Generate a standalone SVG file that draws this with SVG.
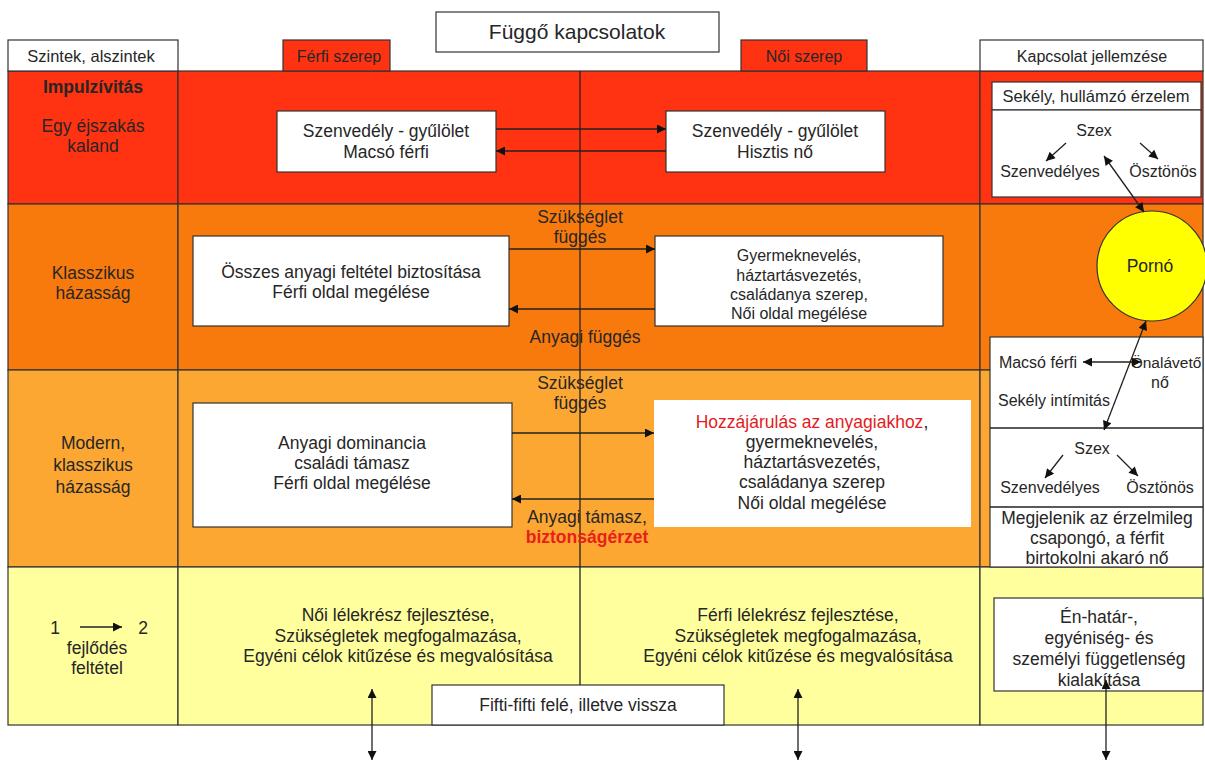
<svg xmlns="http://www.w3.org/2000/svg" width="1205" height="763" viewBox="0 0 1205 763">
<style>
text{font-family:"Liberation Sans",Arial,sans-serif;font-size:17.5px;fill:#262626;text-anchor:middle}
.s{font-size:16px}
.b{stroke:#333;stroke-width:1.2}
.w{fill:#fff}
.r{fill:#ff3311}
.o{fill:#f87a0d}
.lo{fill:#fda733}
.y{fill:#ffff9e}
.ln{stroke:#222;stroke-width:1.3;fill:none}
.hd{font-size:21px}
.rd{fill:#e31b23}
</style>
<defs>
<marker id="ah" viewBox="0 0 10 10" refX="10" refY="5" markerWidth="13" markerHeight="9" markerUnits="userSpaceOnUse" orient="auto-start-reverse"><path d="M0,0 L10,5 L0,10 z" fill="#111"/></marker>
</defs>
<rect width="1205" height="763" fill="#fff"/>
<g id="rows">
<rect class="r b" x="8" y="71" width="170" height="133"/>
<rect class="r b" x="178" y="71" width="802" height="133"/>
<rect class="r b" x="980" y="71" width="223" height="133"/>
<rect class="o b" x="8" y="204" width="170" height="166"/>
<rect class="o b" x="178" y="204" width="802" height="166"/>
<rect class="o b" x="980" y="204" width="223" height="166"/>
<rect class="lo b" x="8" y="370" width="170" height="197"/>
<rect class="lo b" x="178" y="370" width="802" height="197"/>
<rect class="lo b" x="980" y="370" width="223" height="197"/>
<rect class="y b" x="8" y="567" width="170" height="158"/>
<rect class="y b" x="178" y="567" width="802" height="158"/>
<rect class="y b" x="980" y="567" width="223" height="158"/>
<line class="ln" x1="580" y1="71" x2="580" y2="685"/>
</g>
<g id="header">
<rect class="w b" x="436" y="12" width="283" height="40"/>
<text class="hd" x="577" y="39">Függő kapcsolatok</text>
<rect class="w b" x="8" y="40" width="170" height="31"/>
<text x="91" y="62" style="font-size:16.5px">Szintek, alszintek</text>
<rect class="r b" x="283" y="40" width="107" height="31"/>
<text class="s" x="339" y="62">Férfi szerep</text>
<rect class="r b" x="741" y="40" width="126" height="31"/>
<text class="s" x="804" y="62">Női szerep</text>
<rect class="w b" x="980" y="40" width="223" height="31"/>
<text class="s" x="1092" y="62">Kapcsolat jellemzése</text>
</g>
<g id="levels">
<text x="93" y="93" font-weight="bold">Impulzívitás</text>
<text x="93" y="132">Egy éjszakás</text>
<text x="93" y="152">kaland</text>
<text x="93" y="279">Klasszikus</text>
<text x="93" y="299">házasság</text>
<text x="93" y="449">Modern,</text>
<text x="93" y="471">klasszikus</text>
<text x="93" y="493">házasság</text>
<text x="55" y="634">1</text>
<text x="143" y="634">2</text>
<text x="97" y="654">fejlődés</text>
<text x="97" y="674">feltétel</text>
</g>
<g id="row1">
<rect class="w b" x="277" y="111" width="219" height="61"/>
<text x="386" y="137">Szenvedély - gyűlölet</text>
<text x="386" y="158">Macsó férfi</text>
<rect class="w b" x="666" y="111" width="219" height="61"/>
<text x="775" y="137">Szenvedély - gyűlölet</text>
<text x="775" y="158">Hisztis nő</text>
</g>
<g id="row2">
<rect class="w b" x="193" y="236" width="316" height="90"/>
<text x="351" y="278">Összes anyagi feltétel biztosítása</text>
<text x="351" y="298">Férfi oldal megélése</text>
<rect class="w b" x="655" y="236" width="288" height="90"/>
<text class="s" x="799" y="261">Gyermeknevelés,</text>
<text class="s" x="799" y="281">háztartásvezetés,</text>
<text class="s" x="799" y="300">családanya szerep,</text>
<text class="s" x="799" y="319">Női  oldal megélése</text>
<text x="580" y="223">Szükséglet</text>
<text x="580" y="243">függés</text>
<text x="585" y="343">Anyagi függés</text>
</g>
<g id="row3">
<rect class="w b" x="193" y="403" width="319" height="124"/>
<text x="352" y="449">Anyagi dominancia</text>
<text x="352" y="469">családi támasz</text>
<text x="352" y="489">Férfi oldal megélése</text>
<rect x="654" y="400" width="317" height="127" fill="#fff"/>
<text x="812" y="428"><tspan class="rd">Hozzájárulás az anyagiakhoz</tspan>,</text>
<text x="812" y="448">gyermeknevelés,</text>
<text x="812" y="468">háztartásvezetés,</text>
<text x="812" y="488">családanya szerep</text>
<text x="812" y="509">Női  oldal megélése</text>
<text x="580" y="389">Szükséglet</text>
<text x="580" y="409">függés</text>
<text x="587" y="523">Anyagi támasz,</text>
<text x="587" y="543" font-weight="bold" style="fill:#e8201a">biztonságérzet</text>
</g>
<g id="row4">
<text x="398" y="621">Női lélekrész fejlesztése,</text>
<text x="398" y="642">Szükségletek megfogalmazása,</text>
<text x="398" y="662">Egyéni célok kitűzése és megvalósítása</text>
<text x="798" y="621">Férfi lélekrész fejlesztése,</text>
<text x="798" y="642">Szükségletek megfogalmazása,</text>
<text x="798" y="662">Egyéni célok kitűzése és megvalósítása</text>
<rect class="w b" x="432" y="685" width="292" height="40"/>
<text x="578" y="711">Fifti-fifti felé, illetve vissza</text>
<rect class="w b" x="994" y="598" width="209" height="93"/>
<text x="1099" y="623">Én-határ-,</text>
<text x="1099" y="644">egyéniség- és</text>
<text x="1099" y="665">személyi függetlenség</text>
<text x="1099" y="686">kialakítása</text>
</g>
<g id="right-col">
<rect class="w b" x="992" y="82" width="209" height="28"/>
<text x="1096" y="102" style="font-size:16.5px">Sekély, hullámzó érzelem</text>
<rect class="w b" x="992" y="110" width="209" height="87"/>
<text class="s" x="1094" y="136">Szex</text>
<text class="s" x="1050" y="177">Szenvedélyes</text>
<text class="s" x="1163" y="177">Ösztönös</text>
<circle cx="1152" cy="266" r="55" fill="#ffff00" stroke="#333" stroke-width="1.2"/>
<text x="1150" y="272">Pornó</text>
<rect class="w" x="990" y="337" width="213" height="230" stroke="#333" stroke-width="1.2"/>
<line class="ln" x1="990" y1="428" x2="1203" y2="428"/>
<line class="ln" x1="990" y1="507" x2="1203" y2="507"/>
<text class="s" x="1038" y="368">Macsó férfi</text>
<text x="1166" y="368" style="font-size:15.5px">Önalávető</text>
<text class="s" x="1160" y="388">nő</text>
<text class="s" x="1054" y="406">Sekély intímitás</text>
<text class="s" x="1092" y="454">Szex</text>
<text class="s" x="1050" y="493">Szenvedélyes</text>
<text class="s" x="1160" y="493">Ösztönös</text>
<text x="1097" y="524">Megjelenik az érzelmileg</text>
<text x="1097" y="544">csapongó,  a férfit</text>
<text x="1097" y="564">birtokolni akaró nő</text>
</g>
<g id="connectors">
<line class="ln" x1="496" y1="129" x2="666" y2="129" marker-end="url(#ah)"/>
<line class="ln" x1="666" y1="151" x2="496" y2="151" marker-end="url(#ah)"/>
<line class="ln" x1="509" y1="249" x2="655" y2="249" marker-end="url(#ah)"/>
<line class="ln" x1="655" y1="309" x2="509" y2="309" marker-end="url(#ah)"/>
<line class="ln" x1="512" y1="433" x2="654" y2="433" marker-end="url(#ah)"/>
<line class="ln" x1="654" y1="499" x2="512" y2="499" marker-end="url(#ah)"/>
<line class="ln" x1="80" y1="627" x2="122" y2="627" marker-end="url(#ah)"/>
<line class="ln" x1="1066" y1="143" x2="1046" y2="161" marker-end="url(#ah)"/>
<line class="ln" x1="1140" y1="143" x2="1158" y2="159" marker-end="url(#ah)"/>
<line class="ln" x1="1104" y1="156" x2="1144" y2="212" marker-start="url(#ah)" marker-end="url(#ah)"/>
<line class="ln" x1="1083" y1="362" x2="1141" y2="362" marker-start="url(#ah)" marker-end="url(#ah)"/>
<line class="ln" x1="1146" y1="321" x2="1104" y2="430" marker-start="url(#ah)" marker-end="url(#ah)"/>
<line class="ln" x1="1063" y1="455" x2="1045" y2="478" marker-end="url(#ah)"/>
<line class="ln" x1="1117" y1="455" x2="1138" y2="476" marker-end="url(#ah)"/>
<line class="ln" x1="372" y1="689" x2="372" y2="760" marker-start="url(#ah)" marker-end="url(#ah)"/>
<line class="ln" x1="798" y1="689" x2="798" y2="760" marker-start="url(#ah)" marker-end="url(#ah)"/>
<line class="ln" x1="1106" y1="680" x2="1106" y2="760" marker-start="url(#ah)" marker-end="url(#ah)"/>
</g>
</svg>
